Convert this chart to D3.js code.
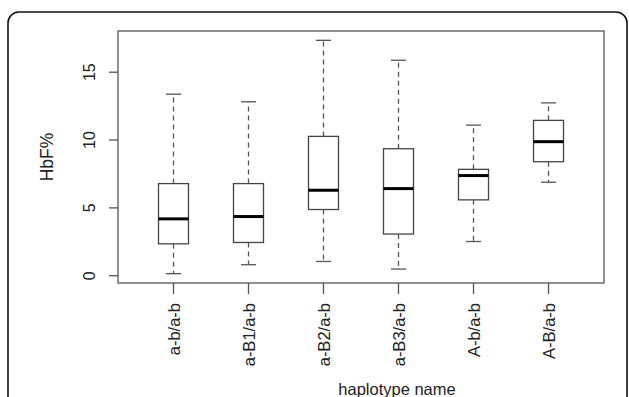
<!DOCTYPE html>
<html>
<head>
<meta charset="utf-8">
<script src="https://cdn.jsdelivr.net/npm/d3@7"></script>
<style>
  body { margin: 0; background: #fff; }
  text { font-family: "Liberation Sans", Arial, sans-serif; fill: #222; }
</style>
</head>
<body>
<div id="chart"></div>
<script>
// box plot data
const categories = ['a-b/a-b', 'a-B1/a-b', 'a-B2/a-b', 'a-B3/a-b', 'A-b/a-b', 'A-B/a-b'];
const whiskLow  = [0.15, 0.81, 1.05, 0.49, 2.52, 6.89];
const q1        = [2.35, 2.45, 4.88, 3.07, 5.59, 8.40];
const medians   = [4.19, 4.36, 6.30, 6.42, 7.38, 9.88];
const q3        = [6.79, 6.79, 10.27, 9.36, 7.84, 11.45];
const whiskHigh = [13.38, 12.82, 17.35, 15.88, 11.10, 12.74];
const yTicks = [0, 5, 10, 15];

const W = 629, H = 397;
const plot = {left: 118, right: 604, top: 31, bottom: 283};

const svg = d3.select('#chart').append('svg')
    .attr('width', W)
    .attr('height', H);

// outer rounded frame (bottom runs off the page)
svg.append('rect')
    .attr('x', 8).attr('y', 12)
    .attr('width', 619).attr('height', 430)
    .attr('rx', 11)
    .attr('fill', 'none')
    .attr('stroke', '#111')
    .attr('stroke-width', 1.6);

// R style axis ranges: 4% padding around data
const n = categories.length;
const x = d3.scaleLinear()
    .domain([0.5 - 0.04 * n, n + 0.5 + 0.04 * n])
    .range([plot.left, plot.right]);

const lo = d3.min(whiskLow), hi = d3.max(whiskHigh);
const pad = (hi - lo) * 0.04;
const y = d3.scaleLinear()
    .domain([lo - pad, hi + pad])
    .range([plot.bottom, plot.top]);

const boxes = categories.map((c, i) => ({
    name: c, pos: i + 1,
    lo: whiskLow[i], q1: q1[i], med: medians[i], q3: q3[i], hi: whiskHigh[i]
}));

const boxW = x(0.4) - x(0);
const capW = boxW / 2;

const g = svg.append('g');

// whiskers
g.selectAll('.whisk-up').data(boxes).join('line')
    .attr('x1', d => x(d.pos)).attr('x2', d => x(d.pos))
    .attr('y1', d => y(d.q3)).attr('y2', d => y(d.hi))
    .attr('stroke', '#555').attr('stroke-width', 1.3)
    .attr('stroke-dasharray', '5,4');
g.selectAll('.whisk-dn').data(boxes).join('line')
    .attr('x1', d => x(d.pos)).attr('x2', d => x(d.pos))
    .attr('y1', d => y(d.q1)).attr('y2', d => y(d.lo))
    .attr('stroke', '#555').attr('stroke-width', 1.3)
    .attr('stroke-dasharray', '5,4');

// caps
['hi', 'lo'].forEach(k => {
    g.selectAll('.cap-' + k).data(boxes).join('line')
        .attr('x1', d => x(d.pos) - capW / 2).attr('x2', d => x(d.pos) + capW / 2)
        .attr('y1', d => y(d[k])).attr('y2', d => y(d[k]))
        .attr('stroke', '#555').attr('stroke-width', 1.3);
});

// boxes
g.selectAll('.box').data(boxes).join('rect')
    .attr('x', d => x(d.pos) - boxW / 2)
    .attr('width', boxW)
    .attr('y', d => y(d.q3))
    .attr('height', d => y(d.q1) - y(d.q3))
    .attr('fill', '#fff')
    .attr('stroke', '#444')
    .attr('stroke-width', 1.3);

// medians
g.selectAll('.med').data(boxes).join('line')
    .attr('x1', d => x(d.pos) - boxW / 2).attr('x2', d => x(d.pos) + boxW / 2)
    .attr('y1', d => y(d.med)).attr('y2', d => y(d.med))
    .attr('stroke', '#000').attr('stroke-width', 3);

// plot frame
svg.append('rect')
    .attr('x', plot.left).attr('y', plot.top)
    .attr('width', plot.right - plot.left)
    .attr('height', plot.bottom - plot.top)
    .attr('fill', 'none')
    .attr('stroke', '#555')
    .attr('stroke-width', 1.3);

// y axis ticks and labels
const yAxis = svg.append('g');
yAxis.selectAll('line').data(yTicks).join('line')
    .attr('x1', plot.left - 9).attr('x2', plot.left)
    .attr('y1', d => y(d)).attr('y2', d => y(d))
    .attr('stroke', '#555').attr('stroke-width', 1.3);
yAxis.selectAll('text').data(yTicks).join('text')
    .attr('transform', d => `translate(94.5,${y(d)}) rotate(-90)`)
    .attr('text-anchor', 'middle')
    .style('font-size', '16px')
    .text(d => d);

// x axis ticks and labels
const xAxis = svg.append('g');
xAxis.selectAll('line').data(boxes).join('line')
    .attr('x1', d => x(d.pos)).attr('x2', d => x(d.pos))
    .attr('y1', plot.bottom).attr('y2', plot.bottom + 11)
    .attr('stroke', '#555').attr('stroke-width', 1.3);
xAxis.selectAll('text').data(boxes).join('text')
    .attr('transform', d => `translate(${x(d.pos) + 6.5},303) rotate(-90)`)
    .attr('text-anchor', 'end')
    .style('font-size', '16.5px')
    .text(d => d.name);

// axis titles
svg.append('text')
    .attr('transform', `translate(53,${(plot.top + plot.bottom) / 2}) rotate(-90)`)
    .attr('text-anchor', 'middle')
    .style('font-size', '17.5px')
    .text('HbF%');

svg.append('text')
    .attr('x', 397).attr('y', 395)
    .attr('text-anchor', 'middle')
    .style('font-size', '16.5px')
    .text('haplotype name');
</script>
</body>
</html>
